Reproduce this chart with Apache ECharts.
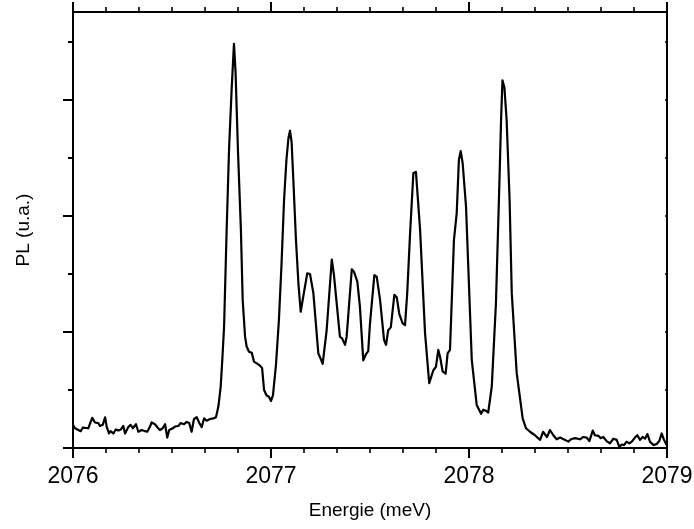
<!DOCTYPE html>
<html>
<head>
<meta charset="utf-8">
<script src="https://cdn.jsdelivr.net/npm/echarts@6/dist/echarts.min.js"></script>
<style>
html,body{margin:0;padding:0;background:#fff;}
#chart{width:694px;height:529px;}
</style>
</head>
<body>
<div id="chart"></div>
<script>
// Energy (meV)
const energy = [
2076.000,2076.010,2076.039,2076.049,2076.077,2076.086,2076.097,2076.111,2076.128,2076.136,
2076.150,2076.162,2076.170,2076.182,2076.190,2076.204,2076.216,2076.229,2076.242,2076.254,
2076.263,2076.279,2076.291,2076.302,2076.318,2076.330,2076.347,2076.364,2076.375,2076.389,
2076.397,2076.414,2076.428,2076.439,2076.453,2076.465,2076.476,2076.486,2076.504,2076.515,
2076.532,2076.544,2076.561,2076.574,2076.587,2076.599,2076.611,2076.625,2076.638,2076.650,
2076.662,2076.675,2076.692,2076.709,2076.722,2076.734,2076.746,2076.754,2076.763,2076.776,
2076.788,2076.801,2076.813,2076.821,2076.833,2076.848,2076.857,2076.869,2076.877,2076.889,
2076.903,2076.914,2076.928,2076.941,2076.955,2076.965,2076.977,2076.990,2077.000,2077.010,
2077.025,2077.040,2077.053,2077.066,2077.078,2077.088,2077.096,2077.104,2077.114,2077.126,
2077.139,2077.150,2077.160,2077.183,2077.197,2077.214,2077.239,2077.247,2077.261,2077.281,
2077.307,2077.318,2077.328,2077.348,2077.359,2077.374,2077.382,2077.408,2077.419,2077.436,
2077.449,2077.466,2077.480,2077.491,2077.500,2077.510,2077.522,2077.534,2077.551,2077.571,
2077.581,2077.592,2077.605,2077.623,2077.635,2077.648,2077.665,2077.677,2077.688,2077.702,
2077.719,2077.732,2077.753,2077.778,2077.799,2077.820,2077.833,2077.845,2077.854,2077.867,
2077.882,2077.892,2077.904,2077.924,2077.938,2077.949,2077.958,2077.968,2077.985,2078.014,
2078.039,2078.049,2078.061,2078.072,2078.086,2078.097,2078.115,2078.136,2078.153,2078.162,
2078.169,2078.179,2078.190,2078.205,2078.216,2078.241,2078.271,2078.288,2078.308,2078.333,
2078.359,2078.374,2078.394,2078.409,2078.426,2078.443,2078.460,2078.485,2078.502,2078.515,
2078.535,2078.561,2078.577,2078.594,2078.608,2078.625,2078.636,2078.653,2078.665,2078.678,
2078.695,2078.712,2078.729,2078.746,2078.759,2078.771,2078.783,2078.796,2078.810,2078.822,
2078.838,2078.850,2078.864,2078.877,2078.889,2078.901,2078.914,2078.931,2078.948,2078.961,
2078.973,2078.985,2078.998
];
// PL intensity (arb. units)
const intensity = [
0.40,0.34,0.29,0.35,0.34,0.32,0.52,0.44,0.43,0.38,
0.40,0.53,0.37,0.25,0.29,0.25,0.32,0.30,0.32,0.38,
0.25,0.36,0.40,0.34,0.41,0.28,0.31,0.29,0.28,0.37,
0.44,0.41,0.35,0.31,0.34,0.41,0.18,0.31,0.34,0.37,
0.38,0.43,0.41,0.45,0.43,0.28,0.50,0.53,0.43,0.36,
0.51,0.47,0.50,0.51,0.53,0.71,1.06,1.52,2.09,3.76,
5.14,6.17,6.97,6.48,5.14,3.76,2.55,1.92,1.75,1.66,
1.64,1.49,1.46,1.43,1.38,1.00,0.91,0.88,0.81,0.91,
1.43,2.21,3.16,4.28,4.97,5.34,5.47,5.28,4.53,3.59,
2.81,2.35,2.33,3.01,3.00,2.67,1.63,1.57,1.45,2.03,
3.25,2.98,2.95,1.92,1.89,1.78,1.92,3.08,3.04,2.87,
2.44,1.51,1.62,1.67,2.15,2.18,2.98,2.95,2.55,1.86,
1.78,2.03,2.08,2.64,2.60,2.31,2.15,2.12,2.67,3.67,
4.74,4.76,3.76,1.98,1.12,1.34,1.40,1.69,1.57,1.32,
1.28,1.63,1.69,3.59,4.05,4.97,5.12,4.91,4.16,1.52,
0.74,0.71,0.59,0.66,0.64,0.61,1.06,2.49,4.51,5.66,
6.34,6.21,5.66,4.28,2.67,1.29,0.51,0.34,0.28,0.22,
0.14,0.28,0.19,0.31,0.22,0.15,0.18,0.14,0.11,0.15,
0.17,0.15,0.19,0.18,0.12,0.30,0.22,0.21,0.17,0.19,
0.12,0.08,0.16,0.14,0.02,0.06,0.05,0.11,0.08,0.11,
0.18,0.22,0.14,0.19,0.16,0.24,0.11,0.05,0.07,0.12,
0.25,0.14,0.05
];
const xTicks = [2076, 2077, 2078, 2079];
const xMinorPerMajor = 6;
const yMajorTicks = [0, 2, 4, 6];
const yAllTicks = [0, 1, 2, 3, 4, 5, 6, 7];
const xLabel = 'Energie (meV)';
const yLabel = 'PL (u.a.)';

const Y_MAX = 7.517;
const FONT = '"Liberation Sans", Arial, sans-serif';
const ls = (w) => ({color: '#000', width: w});

// layout of the plot box (pixels)
const PLOT = {left: 73, right: 27, top: 12, bottom: 81, height: 436};
// helper grids sharing the plot's left/right/bottom, whose top edge sits at a given y value,
// so that their y axes carry exactly the wanted ticks (no extra tick at the plot's max)
const gridUpTo = (v) => ({
  left: PLOT.left, right: PLOT.right, bottom: PLOT.bottom,
  top: PLOT.top + PLOT.height * (1 - v / Y_MAX),
  containLabel: false, outerBoundsMode: 'none'
});
const majorTop = yMajorTicks[yMajorTicks.length - 1];
const allTop = yAllTicks[yAllTicks.length - 1];

const chart = echarts.init(document.getElementById('chart'), null, {renderer: 'canvas'});
const xBase = (g) => ({
  gridIndex: g, type: 'value', min: xTicks[0], max: xTicks[xTicks.length - 1],
  interval: xTicks[1] - xTicks[0], splitLine: {show: false}
});
chart.setOption({
  animation: false,
  backgroundColor: '#fff',
  grid: [
    {left: PLOT.left, right: PLOT.right, top: PLOT.top, bottom: PLOT.bottom, containLabel: false, outerBoundsMode: 'none'},
    gridUpTo(majorTop),
    gridUpTo(allTop)
  ],
  xAxis: [
    Object.assign(xBase(0), {
      position: 'bottom',
      name: xLabel, nameLocation: 'middle', nameGap: 53,
      nameTextStyle: {fontFamily: FONT, fontSize: 19, color: '#000'},
      axisLine: {show: true, lineStyle: ls(2), onZero: false},
      axisTick: {show: true, length: 10, lineStyle: ls(2)},
      minorTick: {show: true, splitNumber: xMinorPerMajor, length: 5, lineStyle: ls(1.6)},
      axisLabel: {show: true, margin: 17, fontFamily: FONT, fontSize: 23, color: '#000',
        formatter: v => String(v)}
    }),
    Object.assign(xBase(0), {
      position: 'top',
      axisLine: {show: true, lineStyle: ls(2), onZero: false},
      axisTick: {show: true, length: 10, lineStyle: ls(2)},
      minorTick: {show: true, splitNumber: xMinorPerMajor, length: 5, lineStyle: ls(1.6)},
      axisLabel: {show: false}
    }),
    Object.assign(xBase(1), {show: false}),
    Object.assign(xBase(2), {show: false})
  ],
  yAxis: [
    {
      gridIndex: 0, type: 'value', min: 0, max: Y_MAX, position: 'left',
      splitLine: {show: false}, axisLabel: {show: false}, axisTick: {show: false},
      name: yLabel, nameLocation: 'middle', nameGap: 40,
      nameTextStyle: {fontFamily: FONT, fontSize: 19, color: '#000'},
      axisLine: {show: true, lineStyle: ls(2), onZero: false}
    },
    {
      gridIndex: 0, type: 'value', min: 0, max: Y_MAX, position: 'right',
      splitLine: {show: false}, axisLabel: {show: false}, axisTick: {show: false},
      axisLine: {show: true, lineStyle: ls(2), onZero: false}
    },
    {
      gridIndex: 1, type: 'value', min: 0, max: majorTop,
      interval: yMajorTicks[1] - yMajorTicks[0], position: 'left',
      splitLine: {show: false}, axisLabel: {show: false},
      axisLine: {show: false, onZero: false},
      axisTick: {show: true, length: 10, lineStyle: ls(2)}
    },
    {
      gridIndex: 2, type: 'value', min: 0, max: allTop,
      interval: yAllTicks[1] - yAllTicks[0], position: 'left',
      splitLine: {show: false}, axisLabel: {show: false},
      axisLine: {show: false, onZero: false},
      axisTick: {show: true, length: 5, lineStyle: ls(2)}
    },
    {
      gridIndex: 2, type: 'value', min: 0, max: allTop,
      interval: yAllTicks[1] - yAllTicks[0], position: 'right',
      splitLine: {show: false}, axisLabel: {show: false},
      axisLine: {show: false, onZero: false},
      axisTick: {show: true, inside: true, length: 2, lineStyle: ls(1.6)}
    }
  ],
  series: [{
    type: 'line',
    xAxisIndex: 0, yAxisIndex: 0,
    data: energy.map((e, i) => [e, intensity[i]]),
    showSymbol: false, symbol: 'none',
    lineStyle: {color: '#000', width: 2.2, join: 'round'},
    smooth: false
  }]
});
</script>
</body>
</html>
